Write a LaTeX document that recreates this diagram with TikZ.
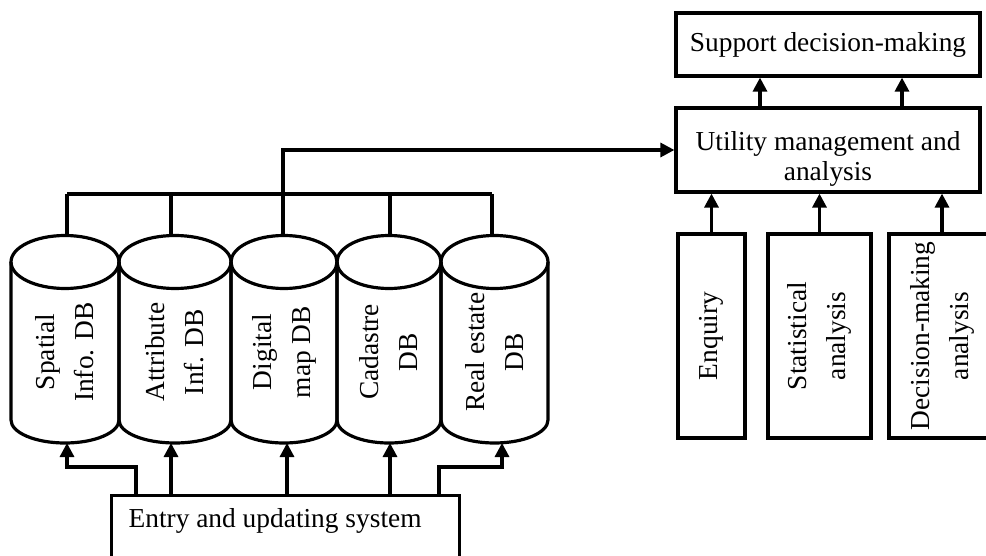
\documentclass[tikz,border=0pt]{standalone}
\usepackage{fontspec}
\setmainfont{Liberation Serif}
\usetikzlibrary{arrows.meta}
\begin{document}
\begin{tikzpicture}[x=0.5pt,y=-0.5pt, line width=1.6pt,
  box/.style={draw, line width=1.6pt, inner sep=0pt},
  lbl/.style={font=\fontsize{13.7}{15}\selectfont, align=center, inner sep=0pt},
  vlbl/.style={font=\fontsize{13.7}{19.5}\selectfont, align=center, rotate=90, inner sep=0pt},
  arr/.style={-{Triangle[length=7pt,width=7pt]}}]
\useasboundingbox (0,0) rectangle (986,556);
\clip (0,0) rectangle (986,556);

% right side boxes
\node[box, lbl, minimum width=152pt, minimum height=31.5pt] (support) at (828,44.5) {Support decision-making};
\node[box, minimum width=152pt, minimum height=42pt] (util) at (828,150) {};
\node[lbl] (utiltxt) at (828,159) {Utility management and\\analysis};
\node[box, vlbl, minimum width=102pt, minimum height=33.5pt] (enq) at (711.5,336) {Enquiry};
\node[box, vlbl, minimum width=102pt, minimum height=51.5pt] (stat) at (819.5,336) {Statistical\\analysis};
\node[box, vlbl, minimum width=102pt, minimum height=53pt] (dec) at (942,336) {Decision-making\\analysis};

\coordinate (s1) at (760,0);
\coordinate (s2) at (902,0);
\draw[arr] (s1 |- util.north) -- (s1 |- support.south);
\draw[arr] (s2 |- util.north) -- (s2 |- support.south);
\draw[arr] (enq.east) -- (enq.east |- util.south);
\draw[arr] (stat.east) -- (stat.east |- util.south);
\draw[arr] (dec.east) -- (dec.east |- util.south);

% cylinders
\foreach \L/\R in {11/119,119/231,231/337,337/441,441/548}{
  \pgfmathsetmacro\rx{(\R-\L)/4}
  \draw ({(\L+\R)/2},262) ellipse [x radius=\rx pt, y radius=13.25pt];
  \draw (\L,262) -- (\L,420) arc[start angle=180, end angle=360, x radius=\rx pt, y radius=11.5pt] -- (\R,262);
}
\node[vlbl] (db1) at (65,352) {Spatial\\Info. DB};
\node[vlbl] (db2) at (175,352) {Attribute\\Inf. DB};
\node[vlbl] (db3) at (284,352) {Digital\\map DB};
\node[vlbl] (db4) at (389,352) {Cadastre\\DB};
\node[vlbl] (db5) at (494.5,352) {Real estate\\DB};

% top bus
\coordinate (b1) at (67,194);
\coordinate (b2) at (171,194);
\coordinate (b3) at (283,194);
\coordinate (b4) at (390,194);
\coordinate (b5) at (492,194);
\coordinate (t1) at (67,235.5);
\coordinate (t2) at (171,235.5);
\coordinate (t3) at (283,235.5);
\coordinate (t4) at (390,235.5);
\coordinate (t5) at (492,235.5);
\draw (b1) -- (b5);
\foreach \i in {1,...,5}{\draw (b\i) -- (t\i);}
\draw[arr] (b3) |- (util.west);

% entry box
\node[box, minimum width=174pt, minimum height=60pt, anchor=north west] (entry) at (110,494) {};
\node[lbl, anchor=base west] (entrytxt) at (127,527) {Entry and updating system};

\coordinate (e1) at (136,494);
\coordinate (e2) at (171,494);
\coordinate (e3) at (287,494);
\coordinate (e4) at (390,494);
\coordinate (e5) at (439,494);
\coordinate (cb1) at (67,443);
\coordinate (cb2) at (171,443);
\coordinate (cb3) at (287,443);
\coordinate (cb4) at (390,443);
\coordinate (cb5) at (502,443);
\draw[arr] (e1) -- ++(0,-27) -| (cb1);
\draw[arr] (e2) -- (cb2);
\draw[arr] (e3) -- (cb3);
\draw[arr] (e4) -- (cb4);
\draw[arr] (e5) -- ++(0,-27) -| (cb5);
\end{tikzpicture}
\end{document}
